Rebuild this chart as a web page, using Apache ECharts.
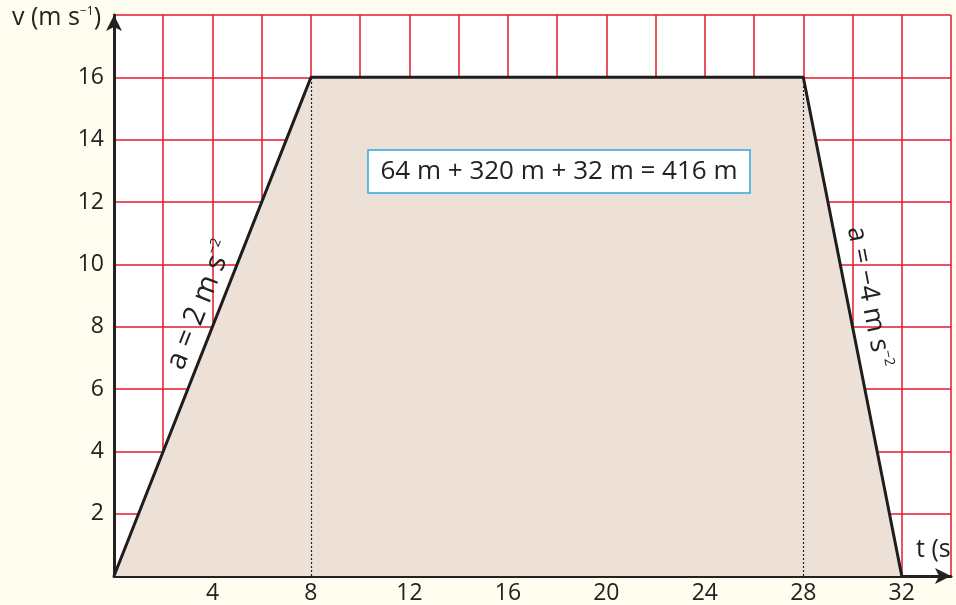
<!DOCTYPE html>
<html><head><meta charset="utf-8">
<script src="https://cdn.jsdelivr.net/npm/echarts@6/dist/echarts.min.js"></script>
<style>html,body{margin:0;padding:0;background:#fefdf0}#c{width:956px;height:605px}</style>
</head><body><div id="c"></div>
<script>
const times = [0, 8, 28, 32];
const speeds = [0, 16, 16, 0];
const dottedTimes = [8, 28];
const xTickLabels = [4, 8, 12, 16, 20, 24, 28, 32];
const yTickLabels = [2, 4, 6, 8, 10, 12, 14, 16];
const areaText = '64 m + 320 m + 32 m = 416 m';

const FONT = '"Open Sans", "DejaVu Sans", sans-serif';
const chart = echarts.init(document.getElementById('c'));
const grid = {left:114, right:5, top:15, bottom:29};
chart.setOption({
  backgroundColor:'#fefdf0',
  animation:false,
  grid:{left:grid.left, right:grid.right, top:grid.top, bottom:grid.bottom, show:true, backgroundColor:'#ffffff', borderWidth:0},
  xAxis:{type:'value', min:0, max:34, interval:2,
    axisLine:{show:true, lineStyle:{color:'#222', width:3}, symbol:['none','arrow'], symbolSize:[12,16], symbolOffset:[0,0]},
    axisTick:{show:false},
    splitLine:{show:true, lineStyle:{color:'#e6192a', width:1.5}},
    axisLabel:{color:'#222', fontFamily:FONT, fontSize:23, margin:6,
      formatter:v=> xTickLabels.indexOf(v)>=0 ? String(v) : ''}
  },
  yAxis:{type:'value', min:0, max:18, interval:2,
    axisLine:{show:true, lineStyle:{color:'#222', width:3}, symbol:['none','arrow'], symbolSize:[12,16]},
    axisTick:{show:false},
    splitLine:{show:true, lineStyle:{color:'#e6192a', width:1.5}},
    axisLabel:{color:'#222', fontFamily:FONT, fontSize:23, margin:10,
      formatter:v=> yTickLabels.indexOf(v)>=0 ? String(v) : ''}
  },
  series:[
    {type:'line', data:times.map((t,i)=>[t,speeds[i]]), symbol:'none',
     lineStyle:{color:'#1e1e1e', width:3}, areaStyle:{color:'#ede0d6', opacity:1}, z:3,
     markLine:{silent:true, symbol:'none', label:{show:false},
       lineStyle:{color:'#222', type:[2,2], width:1.2},
       data: dottedTimes.map(t=>[{coord:[t,0]},{coord:[t,speeds[times.indexOf(t)]]}])}
    }
  ],
  graphic:[
    {type:'text', left:12, top:5, z:100, style:{rich:{a:{fontSize:25, fontFamily:FONT, fill:'#222'}, s:{fontSize:12, fontFamily:FONT, fill:'#222', padding:[0,0,12,0]}}, text:'{a|v (m s}{s|−1}{a|)}', fill:'#222'}},
    {type:'text', left:916, top:537, z:100, style:{text:'t (s', fontSize:25, fontFamily:FONT, fill:'#222'}},
    {type:'rect', z:100, shape:{x:368,y:150,width:382,height:43}, style:{fill:'#fff', stroke:'#2ea8e0', lineWidth:1.5}},
    {type:'text', z:101, x:559, y:172, style:{text:areaText, fontSize:26, fontFamily:FONT, fill:'#222', align:'center', verticalAlign:'middle'}},
    {type:'text', z:100, x:200, y:305, rotation:68.5*Math.PI/180, style:{rich:{a:{fontSize:29, fontFamily:FONT, fill:'#222'}, s:{fontSize:14, fontFamily:FONT, fill:'#222', padding:[0,0,16,0]}}, text:'{a|a = 2 m s}{s|−2}', align:'center', verticalAlign:'middle'}},
    {type:'text', z:100, x:869, y:297, rotation:-78.9*Math.PI/180, style:{rich:{a:{fontSize:27, fontFamily:FONT, fill:'#222'}, s:{fontSize:14, fontFamily:FONT, fill:'#222', padding:[0,0,14,0]}}, text:'{a|a = −4 m s}{s|−2}', align:'center', verticalAlign:'middle'}}
  ]
});
</script></body></html>
